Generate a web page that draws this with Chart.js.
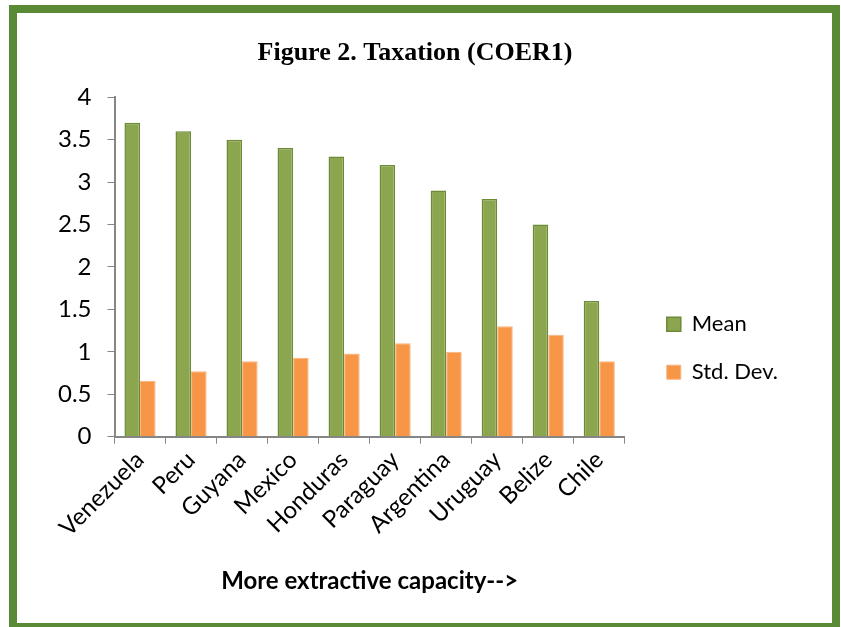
<!DOCTYPE html>
<html lang="en">
<head>
  <meta charset="UTF-8">
  <title>Figure 2. Taxation (COER1)</title>
  <script src="https://cdn.jsdelivr.net/npm/chart.js"></script>
  <style>
    body {
      margin: 0;
      background: #fff;
    }
    .frame {
      position: absolute;
      left: 9px;
      top: 5px;
      width: 831px;
      height: 626px;
      box-sizing: border-box;
      border: 8px solid #5a8a36;
      background: #fff;
    }
    .chart-box {
      position: relative;
      width: 815px;
      height: 610px;
    }
  </style>
</head>
<body>
  <div class="frame">
    <div class="chart-box">
      <canvas id="taxChart"></canvas>
    </div>
  </div>

  <script>
    // Countries, ordered from least to most extractive capacity
    const countries = ['Venezuela', 'Peru', 'Guyana', 'Mexico', 'Honduras',
                       'Paraguay', 'Argentina', 'Uruguay', 'Belize', 'Chile'];
    const meanValues = [3.7, 3.6, 3.5, 3.4, 3.3, 3.2, 2.9, 2.8, 2.5, 1.6];
    const stdDevValues = [0.66, 0.77, 0.89, 0.93, 0.98, 1.1, 1.0, 1.3, 1.2, 0.89];
    const yTicks = [0, 0.5, 1, 1.5, 2, 2.5, 3, 3.5, 4];

    const axisGray = '#868686';
    const sansFont = 'Lato, "Liberation Sans", sans-serif';

    const ctx = document.getElementById('taxChart').getContext('2d');

    new Chart(ctx, {
      type: 'bar',
      data: {
        labels: countries,
        datasets: [
          {
            label: 'Mean',
            data: meanValues,
            backgroundColor: '#8ba64f',
            borderColor: '#6d8a37',
            borderWidth: 1.5,
            borderSkipped: 'bottom'
          },
          {
            label: 'Std. Dev.',
            data: stdDevValues,
            backgroundColor: '#f79646',
            borderColor: '#fab27a',
            borderWidth: 1,
            borderSkipped: 'bottom'
          }
        ]
      },
      options: {
        responsive: true,
        maintainAspectRatio: false,
        animation: false,
        layout: {
          padding: { left: 25, right: 44, top: 0, bottom: 27 }
        },
        datasets: {
          bar: {
            categoryPercentage: 0.61,
            barPercentage: 1.0
          }
        },
        plugins: {
          title: {
            display: true,
            text: 'Figure 2. Taxation (COER1)',
            color: '#000',
            font: { family: '"Liberation Serif", serif', size: 26, weight: 'bold' },
            padding: { top: 25, bottom: 28 }
          },
          legend: {
            position: 'right',
            align: 'start',
            fullSize: false,
            maxWidth: 220,
            // empty title only pushes the entries down beside the bars
            title: {
              display: true,
              text: '',
              font: { size: 10 },
              padding: { top: 178, bottom: 0 }
            },
            labels: {
              color: '#000',
              font: { family: sansFont, size: 22 },
              boxWidth: 14,
              boxHeight: 14,
              padding: 26
            }
          },
          tooltip: { enabled: false }
        },
        scales: {
          x: {
            grid: {
              display: true,
              drawOnChartArea: false,
              offset: true,
              color: axisGray,
              tickLength: 7
            },
            border: { color: axisGray, width: 2 },
            ticks: {
              color: '#000',
              font: { family: sansFont, size: 24 },
              maxRotation: 45,
              minRotation: 45,
              padding: 2
            },
            title: {
              display: true,
              text: 'More extractive capacity-->',
              color: '#000',
              font: { family: sansFont, size: 24, weight: 'bold' },
              padding: { top: 23, bottom: 0 }
            }
          },
          y: {
            min: yTicks[0],
            max: yTicks[yTicks.length - 1],
            afterBuildTicks: (scale) => {
              scale.ticks = yTicks.map(v => ({ value: v }));
            },
            grid: {
              display: true,
              drawOnChartArea: false,
              color: axisGray,
              tickLength: 7
            },
            border: { color: axisGray, width: 2 },
            ticks: {
              color: '#000',
              font: { family: sansFont, size: 24 },
              padding: 16,
              callback: (value) => String(value)
            }
          },
          // narrow empty axis keeping the legend clear of the last bars
          gap: {
            type: 'linear',
            position: 'right',
            display: true,
            grid: { display: false },
            border: { display: false },
            ticks: { display: false },
            afterFit: (scale) => { scale.width = 16; }
          }
        }
      }
    });
  </script>
</body>
</html>
